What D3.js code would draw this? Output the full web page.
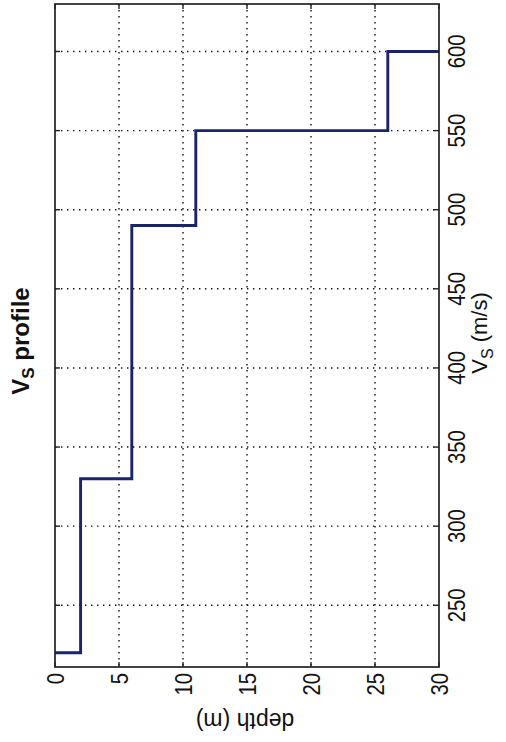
<!DOCTYPE html>
<html>
<head>
<meta charset="utf-8">
<script src="https://cdn.jsdelivr.net/npm/d3@7"></script>
<style>
  body { margin: 0; background: #fff; }
  svg text { font-family: "Liberation Sans", Arial, Helvetica, sans-serif; fill: #111; }
</style>
</head>
<body>
<div id="chart-container"></div>
<script>
// layer tops (m) and shear wave velocity of each layer (m/s)
const layerTop = [0, 2, 6, 11, 26];
const layerVs = [220, 330, 490, 550, 600];
const maxDepth = 30;
const depthTicks = [0, 5, 10, 15, 20, 25, 30];
const vsTicks = [250, 300, 350, 400, 450, 500, 550, 600];
const vsLimits = [211, 630];

const W = 506, H = 742;
const box = { left: 55, right: 439, top: 4, bottom: 667 };

const svg = d3.select("#chart-container")
  .append("svg")
  .attr("width", W)
  .attr("height", H);

// figure is shown rotated 90deg: depth runs left->right, Vs bottom->top
const x = d3.scaleLinear().domain([0, maxDepth]).range([box.left, box.right]);
const y = d3.scaleLinear().domain(vsLimits).range([box.bottom, box.top]);

// grid
const grid = svg.append("g")
  .attr("stroke", "#111")
  .attr("stroke-width", 1.4)
  .attr("stroke-dasharray", "1.4,4.6");

grid.selectAll("line.gx")
  .data(depthTicks.filter(d => d > 0 && d < maxDepth))
  .join("line")
  .attr("class", "gx")
  .attr("x1", d => x(d)).attr("x2", d => x(d))
  .attr("y1", box.top).attr("y2", box.bottom);

grid.selectAll("line.gy")
  .data(vsTicks)
  .join("line")
  .attr("class", "gy")
  .attr("x1", box.left).attr("x2", box.right)
  .attr("y1", d => y(d)).attr("y2", d => y(d));

// ticks on all four sides
const tk = 5;
const ticks = svg.append("g").attr("stroke", "#222").attr("stroke-width", 1.4);
depthTicks.forEach(d => {
  ticks.append("line").attr("x1", x(d)).attr("x2", x(d)).attr("y1", box.bottom).attr("y2", box.bottom - tk);
  ticks.append("line").attr("x1", x(d)).attr("x2", x(d)).attr("y1", box.top).attr("y2", box.top + tk);
});
vsTicks.forEach(v => {
  ticks.append("line").attr("x1", box.right).attr("x2", box.right - tk).attr("y1", y(v)).attr("y2", y(v));
  ticks.append("line").attr("x1", box.left).attr("x2", box.left + tk).attr("y1", y(v)).attr("y2", y(v));
});

// profile
const pts = layerTop.map((d, i) => [d, layerVs[i]]);
pts.push([maxDepth, layerVs[layerVs.length - 1]]);

const line = d3.line()
  .x(d => x(d[0]))
  .y(d => y(d[1]))
  .curve(d3.curveStepAfter);

svg.append("path")
  .datum(pts)
  .attr("d", line)
  .attr("fill", "none")
  .attr("stroke", "#1b2466")
  .attr("stroke-width", 2.9);

// box
svg.append("rect")
  .attr("x", box.left).attr("y", box.top)
  .attr("width", box.right - box.left)
  .attr("height", box.bottom - box.top)
  .attr("fill", "none")
  .attr("stroke", "#222")
  .attr("stroke-width", 1.7);

// depth tick labels (bottom, rotated)
svg.selectAll("text.dl")
  .data(depthTicks)
  .join("text")
  .attr("class", "dl")
  .attr("transform", d => `translate(${x(d) + 8.5},${box.bottom + 6}) rotate(-90) scale(0.88,1)`)
  .attr("text-anchor", "end")
  .style("font-size", "23px")
  .text(d => d);

// Vs tick labels (right, rotated)
svg.selectAll("text.vl")
  .data(vsTicks)
  .join("text")
  .attr("class", "vl")
  .attr("transform", d => `translate(${box.right + 26},${y(d)}) rotate(-90) scale(0.88,1)`)
  .attr("text-anchor", "middle")
  .style("font-size", "23px")
  .text(d => d);

// Vs axis label
const vlab = svg.append("text")
  .attr("transform", `translate(487,${333}) rotate(-90)`)
  .attr("text-anchor", "middle")
  .style("font-size", "22px");
vlab.append("tspan").text("V");
vlab.append("tspan").attr("dy", 6).style("font-size", "16px").text("S");
vlab.append("tspan").attr("dy", -6).text(" (m/s)");

// depth label (upside down)
svg.append("text")
  .attr("transform", `translate(${(box.left + box.right) / 2 - 2},${713}) rotate(180)`)
  .attr("text-anchor", "middle")
  .style("font-size", "23px")
  .text("depth (m)");

// title
const title = svg.append("text")
  .attr("transform", `translate(29,${341}) rotate(-90)`)
  .attr("text-anchor", "middle")
  .style("font-size", "24px")
  .style("font-weight", "bold");
title.append("tspan").text("V");
title.append("tspan").attr("dy", 5).style("font-size", "17px").text("S");
title.append("tspan").attr("dy", -5).text(" profile");
</script>
</body>
</html>
